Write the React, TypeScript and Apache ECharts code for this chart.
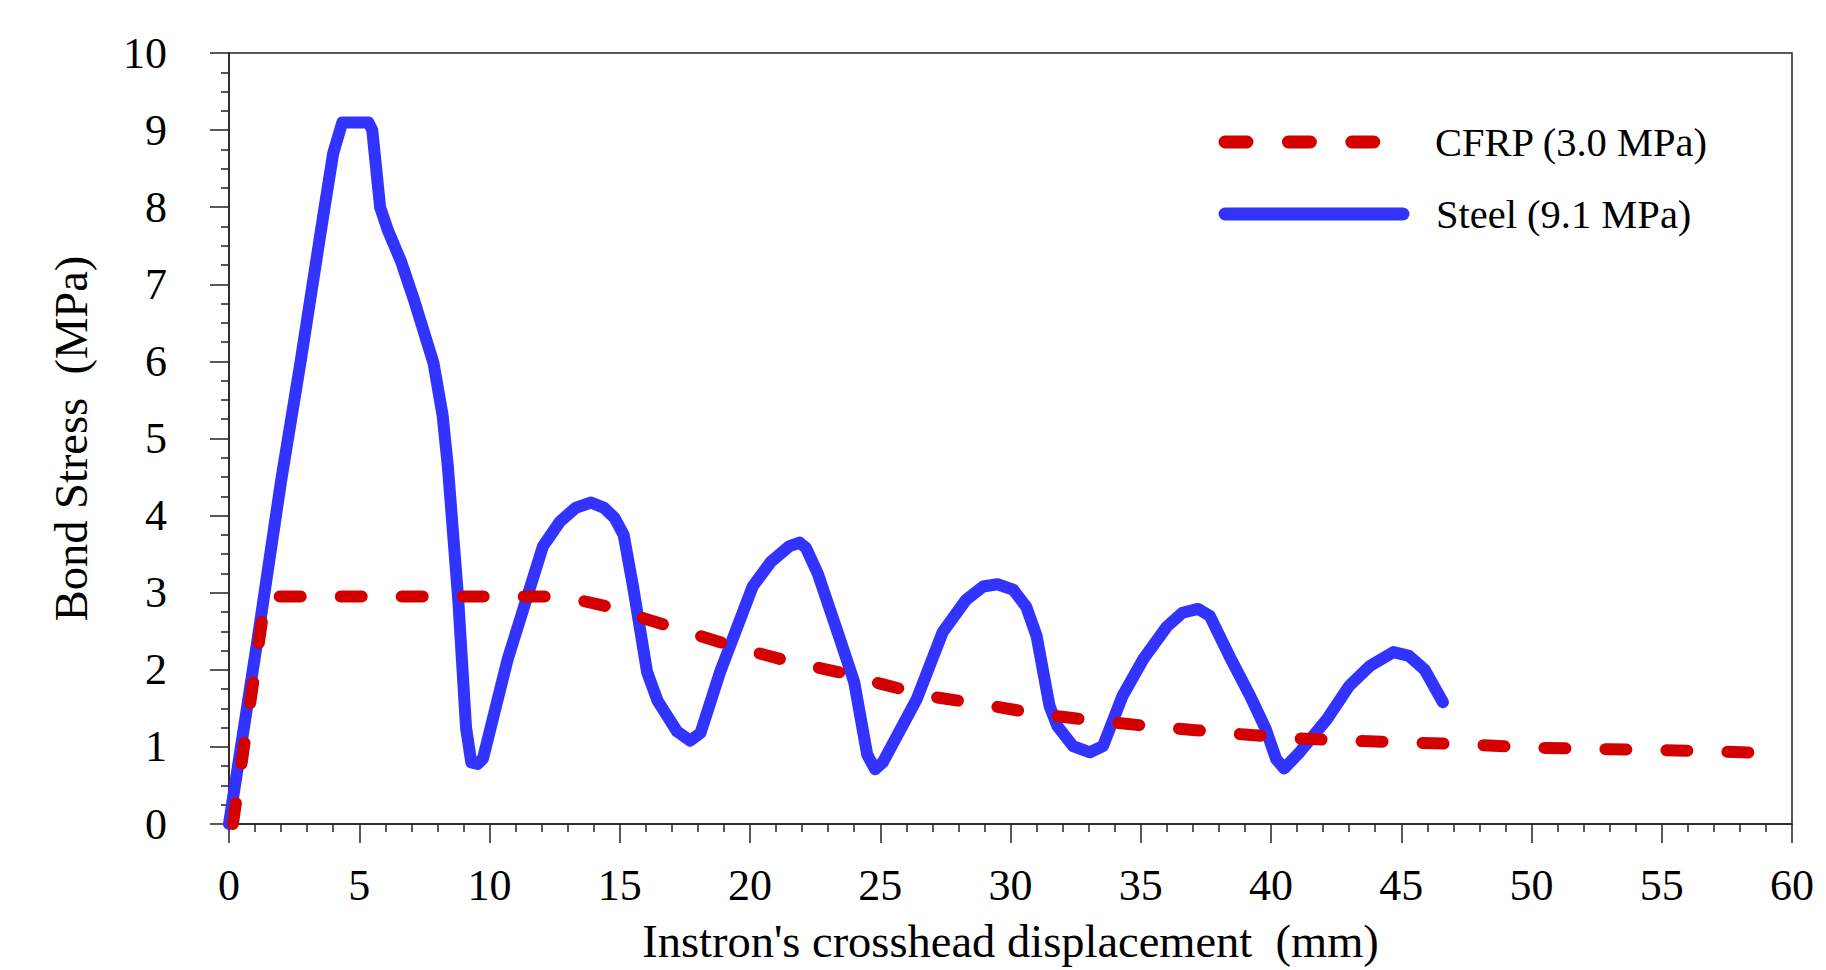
import React, { useEffect, useRef } from "react";
import * as echarts from "echarts";

const xTicks = [0, 5, 10, 15, 20, 25, 30, 35, 40, 45, 50, 55, 60];
const yTicks = [0, 1, 2, 3, 4, 5, 6, 7, 8, 9, 10];

const seriesNames = ["CFRP (3.0 MPa)", "Steel (9.1 MPa)"];

const steelData: [number, number][] = [
  [0, 0], [1.1, 2.4], [2.0, 4.45], [2.75, 6.0], [3.6, 7.85], [4.0, 8.7], [4.35, 9.1],
  [5.35, 9.1], [5.5, 9.0], [5.8, 8.0], [6.1, 7.7], [6.6, 7.3], [7.1, 6.8], [7.85, 5.98],
  [8.2, 5.3], [8.4, 4.64], [8.8, 2.91], [9.1, 1.25], [9.3, 0.8], [9.55, 0.78], [9.75, 0.85],
  [10.7, 2.14], [12.05, 3.6], [12.7, 3.92], [13.3, 4.1], [13.9, 4.17], [14.4, 4.1], [14.8, 3.97],
  [15.15, 3.75], [15.5, 3.1], [16.05, 1.97], [16.45, 1.6], [17.2, 1.2], [17.7, 1.08], [18.1, 1.18],
  [18.85, 1.97], [20.1, 3.08], [20.8, 3.4], [21.5, 3.6], [21.9, 3.65], [22.15, 3.58], [22.6, 3.25],
  [23.45, 2.4], [24.0, 1.84], [24.5, 0.9], [24.8, 0.71], [25.1, 0.8], [26.4, 1.62], [27.4, 2.49],
  [28.3, 2.91], [28.95, 3.08], [29.5, 3.11], [30.1, 3.04], [30.6, 2.82], [31.0, 2.44], [31.5, 1.53],
  [31.8, 1.27], [32.4, 1.01], [33.05, 0.93], [33.55, 1.01], [34.3, 1.66], [35.1, 2.14], [36.0, 2.56],
  [36.6, 2.74], [37.2, 2.79], [37.65, 2.7], [38.4, 2.18], [39.2, 1.66], [39.8, 1.23], [40.2, 0.84],
  [40.5, 0.72], [41.1, 0.93], [42.15, 1.36], [43.0, 1.79], [43.8, 2.05], [44.7, 2.23], [45.3, 2.18],
  [45.9, 2.0], [46.6, 1.58],
];

const cfrpData: [number, number][] = [
  [0.15, 0], [1.4, 2.95], [12.5, 2.95], [13.5, 2.9], [14.8, 2.8], [16, 2.66], [17.5, 2.5],
  [19.5, 2.29], [21.5, 2.11], [23.8, 1.94], [25, 1.82], [27, 1.65], [29, 1.55], [31, 1.43],
  [33, 1.35], [35, 1.28], [37, 1.22], [39, 1.16], [41, 1.11], [43, 1.08], [45, 1.06], [47, 1.04],
  [50, 0.99], [53, 0.97], [56, 0.95], [59.3, 0.92],
];

const FONT = "'Liberation Serif', 'Times New Roman', serif";
const BLUE = "#3333FF";
const RED = "#D40000";
const AXIS = "#222222";

export default function App() {
  const ref = useRef<HTMLDivElement>(null);
  useEffect(() => {
    if (!ref.current) return;
    const chart = echarts.init(ref.current, undefined, { renderer: "svg" });
    const axisCommon = {
      axisLine: { show: true, lineStyle: { color: AXIS, width: 1.5 } },
      axisTick: { show: true, length: 19, lineStyle: { color: AXIS, width: 1.5 } },
      splitLine: { show: false },
    };
    chart.setOption({
      animation: false,
      backgroundColor: "#ffffff",
      grid: {
        left: 229, right: 34, top: 53, bottom: 145,
        show: true, borderColor: AXIS, borderWidth: 1.5, backgroundColor: "transparent",
      },
      xAxis: {
        type: "value", min: xTicks[0], max: xTicks[xTicks.length - 1], interval: 5,
        ...axisCommon,
        minorTick: { show: true, splitNumber: 5, length: 8, lineStyle: { color: AXIS, width: 1.5 } },
        axisLabel: { fontFamily: FONT, fontSize: 44, color: "#000", margin: 39 },
        name: "Instron's crosshead displacement  (mm)",
        nameLocation: "middle", nameGap: 94,
        nameTextStyle: { fontFamily: FONT, fontSize: 46.5, color: "#000" },
      },
      yAxis: {
        type: "value", min: yTicks[0], max: yTicks[yTicks.length - 1], interval: 1,
        ...axisCommon,
        minorTick: { show: true, splitNumber: 4, length: 8, lineStyle: { color: AXIS, width: 1.5 } },
        axisLabel: { fontFamily: FONT, fontSize: 44, color: "#000", margin: 62 },
        name: "Bond Stress  (MPa)",
        nameLocation: "middle", nameGap: 134, nameRotate: 90,
        nameTextStyle: { fontFamily: FONT, fontSize: 46.5, color: "#000" },
      },
      series: [
        {
          name: seriesNames[1], type: "line", data: steelData, showSymbol: false, symbol: "none",
          lineStyle: { color: BLUE, width: 12, cap: "round", join: "round" },
          itemStyle: { color: BLUE }, z: 2,
        },
        {
          name: seriesNames[0], type: "line", data: cfrpData, showSymbol: false, symbol: "none",
          lineStyle: { color: RED, width: 12, type: [21, 40], cap: "round", join: "round" },
          itemStyle: { color: RED }, z: 3,
        },
      ],
      graphic: [
        {
          type: "line", shape: { x1: 1225, y1: 142, x2: 1375, y2: 142 },
          style: { stroke: RED, lineWidth: 13, lineDash: [22, 41.4], lineCap: "round" },
        },
        {
          type: "text", x: 1435, y: 142,
          style: { text: seriesNames[0], font: `40.5px ${FONT}`, fill: "#000", verticalAlign: "middle" },
        },
        {
          type: "line", shape: { x1: 1225, y1: 214, x2: 1403, y2: 214 },
          style: { stroke: BLUE, lineWidth: 13, lineCap: "round" },
        },
        {
          type: "text", x: 1436, y: 214,
          style: { text: seriesNames[1], font: `40.5px ${FONT}`, fill: "#000", verticalAlign: "middle" },
        },
      ],
    });
    return () => chart.dispose();
  }, []);
  return (
    <div
      ref={ref}
      style={{ position: "fixed", left: 0, top: 0, width: 1826, height: 970, background: "#fff" }}
    />
  );
}
